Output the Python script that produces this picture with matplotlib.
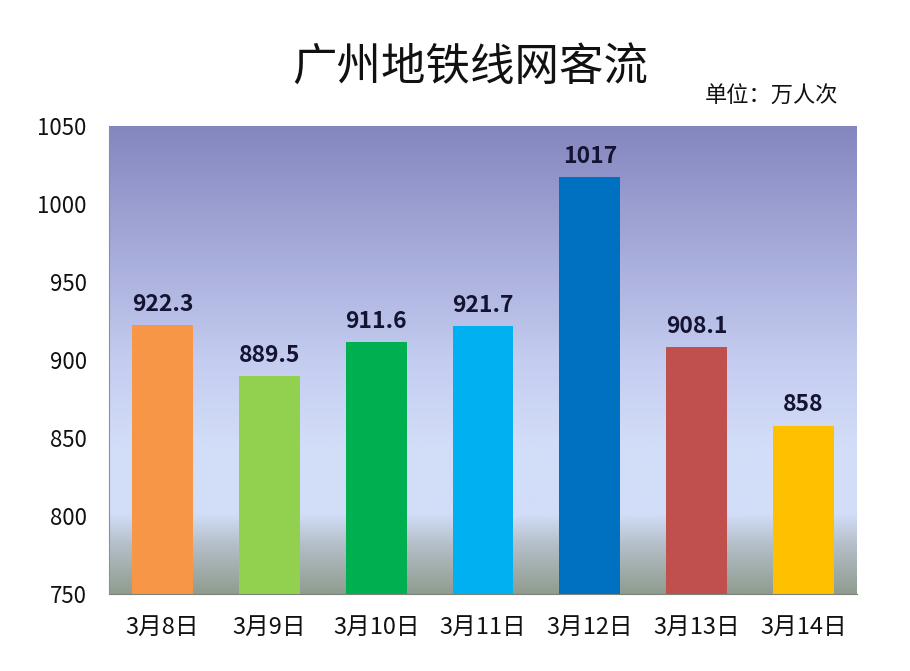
import numpy as np
import matplotlib
matplotlib.use("Agg")
import matplotlib.pyplot as plt
from matplotlib.colors import LinearSegmentedColormap

plt.rcParams['font.family'] = ['Noto Sans CJK SC', 'DejaVu Sans']

# data
dates = ['3月8日', '3月9日', '3月10日', '3月11日', '3月12日', '3月13日', '3月14日']
values = [922.3, 889.5, 911.6, 921.7, 1017, 908.1, 858]
labels = ['922.3', '889.5', '911.6', '921.7', '1017', '908.1', '858']
colors = ['#F79646', '#92D050', '#00B050', '#00B0F0', '#0070C0', '#C0504D', '#FFC000']

fig = plt.figure(figsize=(9.1, 6.71), dpi=100)
ax = fig.add_axes([109 / 910, 1 - 594 / 671, 748 / 910, 468 / 671])

ymin, ymax = 750, 1050
ax.set_xlim(-0.5, len(dates) - 0.5)
ax.set_ylim(ymin, ymax)

# gradient background
stops = [(0.0, '#8486BF'), (0.5, '#C4CCF0'), (0.68, '#D2DDF8'),
         (0.83, '#D2DDF8'), (0.9, '#B3BDC6'), (1.0, '#909C90')]
cmap = LinearSegmentedColormap.from_list('bg', stops)
grad = np.linspace(0, 1, 256).reshape(-1, 1)
ax.imshow(grad, cmap=cmap, aspect='auto', extent=[-0.5, len(dates) - 0.5, ymin, ymax],
          origin='upper', zorder=0)

x = np.arange(len(dates))
ax.bar(x, values, width=0.57, color=colors, zorder=2)

for xi, v, lab in zip(x, values, labels):
    ax.text(xi, v + 6, lab, ha='center', va='bottom', fontsize=16.5,
            fontweight='bold', color='#141432', zorder=3)

ax.set_yticks(np.arange(750, 1051, 50))
ax.set_xticks(x)
ax.set_xticklabels(dates)
ax.tick_params(axis='y', length=0, labelsize=16, pad=16, colors='#111111')
ax.tick_params(axis='x', length=0, labelsize=17, pad=16, colors='#111111')
for s in ['top', 'right']:
    ax.spines[s].set_visible(False)
ax.spines['left'].set_color('#8890A8')
ax.spines['bottom'].set_color('#7A8478')

fig.text(470 / 910, 1 - 68 / 671, '广州地铁线网客流', ha='center', va='center',
         fontsize=32, color='#111111')
fig.text(772 / 910, 1 - 96 / 671, '单位：万人次', ha='center', va='center',
         fontsize=16, color='#111111')

fig.savefig('out.png', dpi=100)
